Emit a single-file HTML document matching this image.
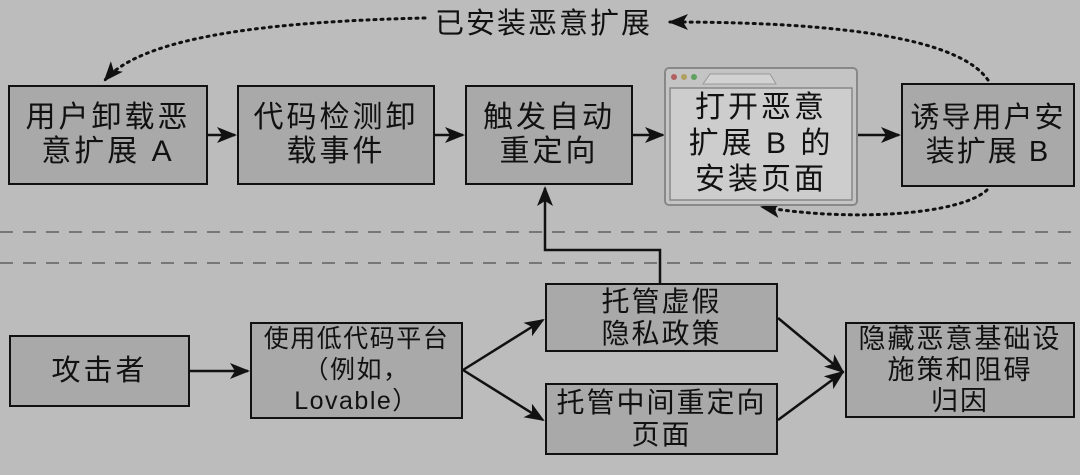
<!DOCTYPE html>
<html><head><meta charset="utf-8"><style>
body{margin:0;width:1080px;height:475px;background:#bcbcbc;overflow:hidden;font-family:"Liberation Sans","Noto Sans CJK SC",sans-serif}
.b{position:absolute;box-sizing:border-box;border:2.5px solid #111;background:#a9a9a9;display:flex;align-items:center;justify-content:center;text-align:center;font-size:30px;line-height:34px;letter-spacing:3px;color:#111;white-space:nowrap}
</style></head><body>
<svg width="1080" height="475" style="position:absolute;left:0;top:0">
<defs>
<marker id="m" markerWidth="20" markerHeight="16" refX="18" refY="8" orient="auto" markerUnits="userSpaceOnUse"><path d="M0,0 L20,8 L0,16 L5,8z" fill="#111"/></marker>
</defs>
<g stroke="#111" stroke-width="2.5" fill="none">
<line x1="208" y1="135" x2="235" y2="135" marker-end="url(#m)"/>
<line x1="435" y1="135" x2="463" y2="135" marker-end="url(#m)"/>
<line x1="633" y1="135" x2="663" y2="135" marker-end="url(#m)"/>
<line x1="857" y1="135" x2="899" y2="135" marker-end="url(#m)"/>
<line x1="190" y1="371" x2="248" y2="371" marker-end="url(#m)"/>
<line x1="463" y1="370" x2="543" y2="320" marker-end="url(#m)"/>
<line x1="463" y1="370" x2="543" y2="420" marker-end="url(#m)"/>
<line x1="778" y1="318" x2="843" y2="372" marker-end="url(#m)"/>
<line x1="778" y1="420" x2="843" y2="372" marker-end="url(#m)"/>
<polyline points="660,283 660,250 545,250 545,188" marker-end="url(#m)"/>
</g>
<g stroke="#111" stroke-width="3" stroke-dasharray="2,5" fill="none" stroke-linecap="round">
<path d="M988,80 C960,40 850,22 670,22" marker-end="url(#m)"/>
<path d="M425,18 C250,22 140,40 105,80" marker-end="url(#m)"/>
<path d="M987,190 C960,215 850,222 762,207" marker-end="url(#m)"/>
</g>
<g stroke="#777" stroke-width="2" stroke-dasharray="13,10">
<line x1="0" y1="232" x2="1080" y2="232"/>
<line x1="0" y1="263" x2="1080" y2="263"/>
</g>
<rect x="665" y="68" width="192" height="137" rx="4" fill="#c4c4c4" stroke="#888" stroke-width="2"/>
<path d="M703,84 L710,74 L770,74 L776,84z" fill="#d2d2d2" stroke="#999"/>
<circle cx="674" cy="77" r="3" fill="#b06060"/><circle cx="684" cy="77" r="3" fill="#b0a060"/><circle cx="694" cy="77" r="3" fill="#60a060"/>
<rect x="670" y="88" width="182" height="112" fill="#cdcdcd" stroke="#888" stroke-width="1.5"/>
<text x="435" y="33" font-size="29" letter-spacing="2" fill="#111" font-family="Liberation Sans,Noto Sans CJK SC,sans-serif">已安装恶意扩展</text>
</svg>
<div class="b" style="left:8px;top:85px;width:200px;height:100px">用户卸载恶<br>意扩展 A</div>
<div class="b" style="left:237px;top:85px;width:198px;height:100px">代码检测卸<br>载事件</div>
<div class="b" style="left:465px;top:85px;width:168px;height:100px">触发自动<br>重定向</div>
<div class="b" style="left:670px;top:88px;width:182px;height:112px;border:none;background:none;line-height:36px">打开恶意<br>扩展 B 的<br>安装页面</div>
<div class="b" style="left:901px;top:83px;width:174px;height:104px;font-size:29px;letter-spacing:2px">诱导用户安<br>装扩展 B</div>
<div class="b" style="left:9px;top:335px;width:181px;height:72px;font-size:29px">攻击者</div>
<div class="b" style="left:250px;top:322px;width:213px;height:97px;font-size:25px;line-height:31px;letter-spacing:1.5px">使用低代码平台<br>（例如，<br>Lovable）</div>
<div class="b" style="left:545px;top:283px;width:233px;height:69px;font-size:28px;letter-spacing:2px;line-height:32px">托管虚假<br>隐私政策</div>
<div class="b" style="left:545px;top:383px;width:233px;height:72px;font-size:28px;letter-spacing:2px;line-height:32px">托管中间重定向<br>页面</div>
<div class="b" style="left:845px;top:322px;width:230px;height:96px;font-size:27px;letter-spacing:2px;line-height:31px">隐藏恶意基础设<br>施策和阻碍<br>归因</div>
</body></html>
